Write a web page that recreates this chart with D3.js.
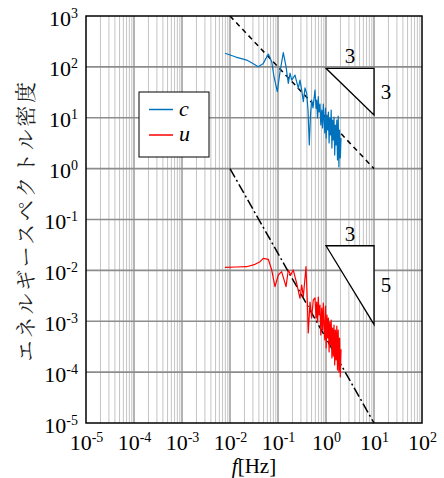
<!DOCTYPE html>
<html><head><meta charset="utf-8">
<script src="https://cdn.jsdelivr.net/npm/d3@7"></script>
<style>
body{margin:0;background:#fff}svg{display:block}
.serif{font-family:"Liberation Serif","Times New Roman",serif;}
.cjk{font-family:"Noto Serif CJK JP","Noto Sans CJK JP",serif;}
</style>
</head><body>
<svg id="c" width="444" height="478"></svg>
<script>
// ---- data ----
const xTickExps = [-5,-4,-3,-2,-1,0,1,2];
const yTickExps = [-5,-4,-3,-2,-1,0,1,2,3];
const fC = [0.00787,0.0133,0.0223,0.0287,0.0389,0.0494,0.0628,0.0740,0.0826,0.0967,0.110,0.129,0.147,0.164,0.178,0.193,0.226,0.265,0.287,0.312,0.337,0.365,0.396,0.422,0.449,0.475,0.503,0.536,
  0.590,0.619,0.640,0.665,0.691,0.715,0.750,0.779,0.814,0.846,0.879,0.909,0.944,0.976,1.010,1.049,1.085,1.122,1.160,1.200,1.241,1.283,1.327,1.372,1.419,1.468,1.518,1.570,1.623,1.679,1.736,1.796,1.857,1.920,1.986,2.054];
const eC = [185,156,136,119,101,117,179,126,64,32.5,80,190,101,47.5,75,55,69,37.9,55,35,20.7,38.5,30.3,14.2,2.91,11.3,22.3,15.6,
  35.1,15.5,22.3,9.89,25.9,12.97,18.6,7.20,14.2,6.29,18.6,9.03,5.01,15.5,4.00,11.3,5.74,12.97,3.19,9.89,4.58,14.2,2.54,9.03,3.65,10.3,1.85,7.20,2.91,9.03,1.48,10.8,1.08,5.74,1.62,4.00];
const fU = [0.00787,0.0133,0.0223,0.0332,0.0422,0.0494,0.0628,0.0740,0.0866,0.1015,0.119,0.147,0.164,0.184,0.208,0.245,0.287,0.312,0.337,0.383,0.407,0.427,0.464,0.503,0.543,
  0.590,0.619,0.640,0.665,0.691,0.715,0.750,0.779,0.814,0.846,0.879,0.909,0.944,0.976,1.010,1.049,1.085,1.122,1.160,1.200,1.241,1.283,1.327,1.372,1.419,1.468,1.518,1.570,1.623,1.679,1.736,1.796,1.857,1.920,1.986,2.054];
const eU = [0.0115,0.01165,0.0118,0.01315,0.01482,0.01727,0.01651,0.01016,0.00478,0.0081,0.00942,0.00478,0.01016,0.0081,0.01016,0.00557,0.00283,0.00516,0.00304,0.0118,0.00262,0.000588,0.00239,0.00116,0.00262,
  0.002864,0.001158,0.002390,0.000967,0.002997,0.001327,0.002086,0.000537,0.001821,0.000673,0.002284,0.000844,0.000428,0.001994,0.000298,0.001327,0.000469,0.001158,0.000249,0.000967,0.000341,0.001058,0.000190,0.000737,0.000207,0.000844,0.000138,0.000673,0.000173,0.000807,0.000110,0.000673,0.0001006,0.000469,0.0000802,0.000282];
// reference slope lines
const refC = {f:[0.01,10], e:[1000,1]};
const refU = {f:[0.01,10], e:[1,1e-5]};
// slope triangles: [f1, f2], [eTop, eBottom] and labels
const tri1 = {f:[1,10], e:[93.7,11.3], hLabel:"3", vLabel:"3"};
const tri2 = {f:[1,10], e:[0.0305,0.00087], hLabel:"3", vLabel:"5"};
const seriesNames = ["c","u"];
const seriesColors = ["#0072BD","#FF0000"];
const yTitle = "エネルギースペクトル密度";

// ---- layout ----
const L=86,R=422,T=16,B=423;
const svg=d3.select("#c");
const x=d3.scaleLog().domain([1e-5,1e2]).range([L,R]);
const y=d3.scaleLog().domain([1e-5,1e3]).range([B,T]);

// grid
const g=svg.append("g");
const minor=[];
for(let n=-5;n<2;n++) for(let k=2;k<10;k++) minor.push(k*Math.pow(10,n));
g.selectAll(".mv").data(minor).join("line")
 .attr("x1",d=>x(d)).attr("x2",d=>x(d)).attr("y1",T).attr("y2",B)
 .attr("stroke","#c4c4c4").attr("stroke-width",1);
g.selectAll(".Mv").data(xTickExps.slice(1,-1)).join("line")
 .attr("x1",d=>x(Math.pow(10,d))).attr("x2",d=>x(Math.pow(10,d))).attr("y1",T).attr("y2",B)
 .attr("stroke","#8c8c8c").attr("stroke-width",1.3);
g.selectAll(".Mh").data(yTickExps.slice(1,-1)).join("line")
 .attr("y1",d=>y(Math.pow(10,d))).attr("y2",d=>y(Math.pow(10,d))).attr("x1",L).attr("x2",R)
 .attr("stroke","#8c8c8c").attr("stroke-width",1.6);

// axes
const xa=svg.append("g").attr("transform",`translate(0,${B})`)
 .call(d3.axisBottom(x).tickValues(xTickExps.map(e=>Math.pow(10,e))).tickSize(0).tickPadding(0).tickFormat(()=>""));
xa.attr("font-family",null).attr("font-size",null);
xa.select(".domain").remove();
xa.selectAll(".tick text").each(function(d,i){
  const t=d3.select(this).attr("class","serif").attr("y",27).attr("dy",null).style("font-size","22px").attr("fill","#000");
  t.append("tspan").text("10");
  t.append("tspan").attr("dy",-8).style("font-size","14px").text(xTickExps[i]);
});
const ya=svg.append("g").attr("transform",`translate(${L},0)`)
 .call(d3.axisLeft(y).tickValues(yTickExps.map(e=>Math.pow(10,e))).tickSize(0).tickPadding(0).tickFormat(()=>""));
ya.attr("font-family",null).attr("font-size",null);
ya.select(".domain").remove();
ya.selectAll(".tick text").each(function(d,i){
  const t=d3.select(this).attr("class","serif").attr("x",-8).attr("dy",9).style("font-size","22px").attr("fill","#000").attr("text-anchor","end");
  t.append("tspan").text("10");
  t.append("tspan").attr("dy",-8).style("font-size","14px").text(yTickExps[i]);
});

// reference lines
const line=d3.line().x(d=>x(d[0])).y(d=>y(d[1]));
svg.append("path").attr("d",line(d3.zip(refC.f,refC.e))).attr("fill","none")
 .attr("stroke","#000").attr("stroke-width",1.5).attr("stroke-dasharray","5,4");
svg.append("path").attr("d",line(d3.zip(refU.f,refU.e))).attr("fill","none")
 .attr("stroke","#000").attr("stroke-width",1.5).attr("stroke-dasharray","10,3,2,3");

// data
svg.append("path").attr("d",line(d3.zip(fC,eC))).attr("fill","none").attr("stroke",seriesColors[0]).attr("stroke-width",1.2).attr("stroke-linejoin","round");
svg.append("path").attr("d",line(d3.zip(fU,eU))).attr("fill","none").attr("stroke",seriesColors[1]).attr("stroke-width",1.2).attr("stroke-linejoin","round");

// triangles
[tri1,tri2].forEach(tr=>{
  const p=[[tr.f[0],tr.e[0]],[tr.f[1],tr.e[0]],[tr.f[1],tr.e[1]]];
  svg.append("path").attr("d",line(p)+"Z").attr("fill","#fff").attr("stroke","#000").attr("stroke-width",1.3);
  const xm=(x(tr.f[0])+x(tr.f[1]))/2;
  svg.append("text").attr("class","serif").attr("x",xm).attr("y",y(tr.e[0])-5).attr("text-anchor","middle")
   .style("font-size","21px").text(tr.hLabel);
  svg.append("text").attr("class","serif").attr("x",x(tr.f[1])+12).attr("y",(y(tr.e[0])+y(tr.e[1]))/2+7).attr("text-anchor","middle")
   .style("font-size","21px").text(tr.vLabel);
});

// frame
svg.append("rect").attr("x",L).attr("y",T).attr("width",R-L).attr("height",B-T)
 .attr("fill","none").attr("stroke","#000").attr("stroke-width",1.5);

// legend
const lg=svg.append("g");
lg.append("rect").attr("x",139).attr("y",92).attr("width",70).attr("height",65).attr("fill","#fff").attr("stroke","#000").attr("stroke-width",1);
seriesNames.forEach((n,i)=>{
  const yy=109.5+i*25.5;
  lg.append("line").attr("x1",149).attr("x2",173).attr("y1",yy).attr("y2",yy).attr("stroke",seriesColors[i]).attr("stroke-width",1.5);
  lg.append("text").attr("class","serif").attr("x",179).attr("y",yy+6).style("font-style","italic").style("font-size","22px").text(n);
});

// axis titles
const xt=svg.append("text").attr("class","serif").attr("x",(L+R)/2).attr("y",473).attr("text-anchor","middle").style("font-size","21px");
xt.append("tspan").style("font-style","italic").text("f");
xt.append("tspan").text("[Hz]");
svg.append("text").attr("class","cjk").attr("transform",`translate(33,${(T+B)/2+1}) rotate(-90)`).attr("text-anchor","middle")
 .style("font-size","21px").attr("letter-spacing",2.6).attr("fill","#222")
 .text(yTitle);
</script>
</body></html>
